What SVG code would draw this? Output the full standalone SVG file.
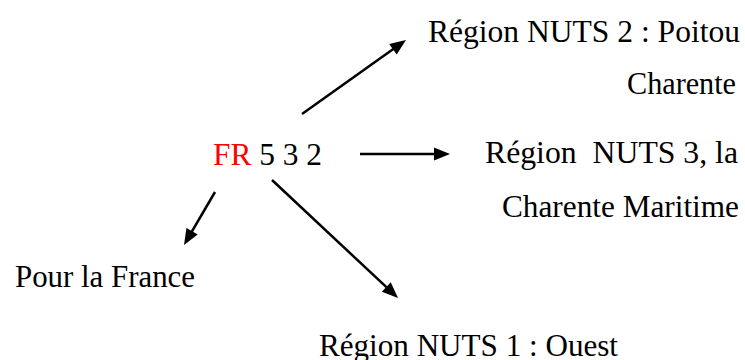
<svg xmlns="http://www.w3.org/2000/svg" width="745" height="360" viewBox="0 0 745 360">
<style>
text{font-family:'Liberation Serif','Times New Roman',serif;font-size:31px;fill:#000;white-space:pre}
.red{fill:#ff0000}
.conn{stroke:#000;stroke-width:2.5;fill:none;marker-end:url(#ah)}
</style>
<defs>
<marker id="ah" markerUnits="userSpaceOnUse" markerWidth="16" markerHeight="13" refX="6" refY="6.5" orient="auto" overflow="visible">
<path d="M0,0 L16,6.5 L0,13 z" fill="#000"/>
</marker>
</defs>
<rect width="745" height="360" fill="#fff"/>
<g id="code"><text x="213" y="165" textLength="109" lengthAdjust="spacingAndGlyphs"><tspan class="red">FR</tspan> 5 3 2</text></g>
<g id="nuts2"><text x="428" y="42" textLength="312" lengthAdjust="spacingAndGlyphs">Région NUTS 2 : Poitou</text><text x="627" y="94" textLength="109" lengthAdjust="spacingAndGlyphs">Charente</text></g>
<g id="nuts3"><text x="485" y="163" textLength="253" lengthAdjust="spacingAndGlyphs" xml:space="preserve">Région  NUTS 3, la</text><text x="502" y="217" textLength="237" lengthAdjust="spacingAndGlyphs">Charente Maritime</text></g>
<g id="france"><text x="15" y="287" textLength="180" lengthAdjust="spacingAndGlyphs">Pour la France</text></g>
<g id="nuts1"><text x="319" y="356" textLength="299" lengthAdjust="spacingAndGlyphs">Région NUTS 1 : Ouest</text></g>
<g id="connectors">
<line class="conn" x1="302" y1="114" x2="397.85" y2="45.8"/>
<line class="conn" x1="360" y1="154" x2="440" y2="154"/>
<line class="conn" x1="215" y1="192" x2="189.05" y2="236.37"/>
<line class="conn" x1="272" y1="180" x2="390.7" y2="291.2"/>
</g>
</svg>
